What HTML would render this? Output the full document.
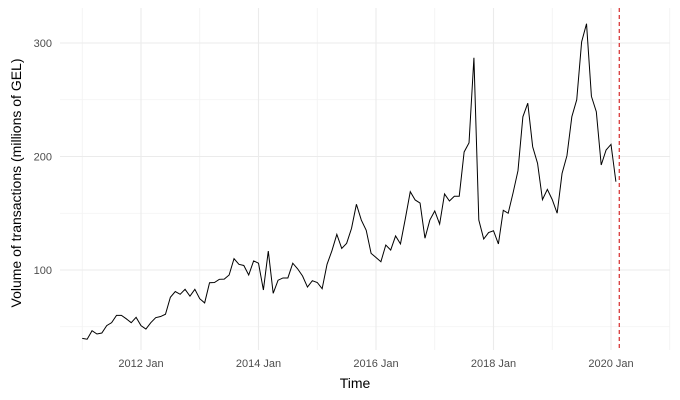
<!DOCTYPE html>
<html><head><meta charset="utf-8"><style>
body{margin:0;background:#fff;}
svg{display:block;font-family:"Liberation Sans",sans-serif;}
</style></head><body>
<svg id="chart" width="680" height="400"></svg>
<script>
const startYear = 2011;
const values = [39.8,39,46.5,43.6,44.5,51,53.6,60,60,57,53.6,58.3,
51,48,53.6,58,59,61,76,81,78.6,83,77,83,
74.7,71,88.8,89,91.8,92,95.6,110,105,104,95.6,108,
106,82.4,116.7,79.5,91,93,93,106,101,94.7,85,90.6,
89,83.5,105,117,131.4,119,123.5,136.7,157.9,144,135,114.7,
111,107.3,122,117.6,130,123,145.5,169,161.7,159,128,144,
152,140.5,167,160.8,165,165,204,212,287,144,127.3,133,
134.6,123,152.6,150,168,187.5,235,247,208.6,194,162,171,
162,150,185,200.7,235,250,301,317,253,239.5,192.5,205.7,
210.7,177.8];
const yTicks = [100,200,300];
const yMinor = [50,150,250];
const xTickYears = [2012,2014,2016,2018,2020];
const xTickLabels = ["2012 Jan","2014 Jan","2016 Jan","2018 Jan","2020 Jan"];
const xMinorYears = [2011,2013,2015,2017,2019,2021];
const cutoff = 2020.14;

const NS="http://www.w3.org/2000/svg";
const svg=document.getElementById('chart');
const X=t=>141+(t-2012)*58.75;
const Y=v=>270-(v-100)*1.135;
const L=60,R=670,T=8,B=350;
function el(tag,attrs,parent){const e=document.createElementNS(NS,tag);for(const k in attrs)e.setAttribute(k,attrs[k]);(parent||svg).appendChild(e);return e;}

const grid=el('g',{});


yMinor.forEach(v=>{const l=el('line',{x1:L,x2:R,y1:Y(v),y2:Y(v),stroke:'#f2f2f2','stroke-width':0.8},grid);

});
xMinorYears.forEach(t=>{const l=el('line',{x1:X(t),x2:X(t),y1:T,y2:B,stroke:'#f2f2f2','stroke-width':0.8},grid);

});
yTicks.forEach(v=>{const l=el('line',{x1:L,x2:R,y1:Y(v),y2:Y(v),stroke:'#ebebeb','stroke-width':1.1},grid);


const t=el('text',{x:52,y:Y(v)+4,'text-anchor':'end','font-size':11,fill:'#4d4d4d'});t.textContent=v;

});
xTickYears.forEach((yr,i)=>{const l=el('line',{x1:X(yr),x2:X(yr),y1:T,y2:B,stroke:'#ebebeb','stroke-width':1.1},grid);


const t=el('text',{x:X(yr),y:367,'text-anchor':'middle','font-size':11,fill:'#4d4d4d'});t.textContent=xTickLabels[i];

});

const pts=values.map((v,i)=>X(startYear+i/12).toFixed(2)+','+Y(v).toFixed(2)).join(' ');
const line=el('polyline',{points:pts,fill:'none',stroke:'#000','stroke-width':1});



const cut=el('line',{x1:X(cutoff),x2:X(cutoff),y1:T,y2:B,stroke:'#c00','stroke-width':1,'stroke-dasharray':'4,3'});



const xt=el('text',{x:355,y:388,'text-anchor':'middle','font-size':14,fill:'#000'});xt.textContent='Time';


const yt=el('text',{x:0,y:0,transform:'translate(21,183) rotate(-90)','text-anchor':'middle','font-size':14,fill:'#000'});yt.textContent='Volume of transactions (millions of GEL)';


</script>
</body></html>
